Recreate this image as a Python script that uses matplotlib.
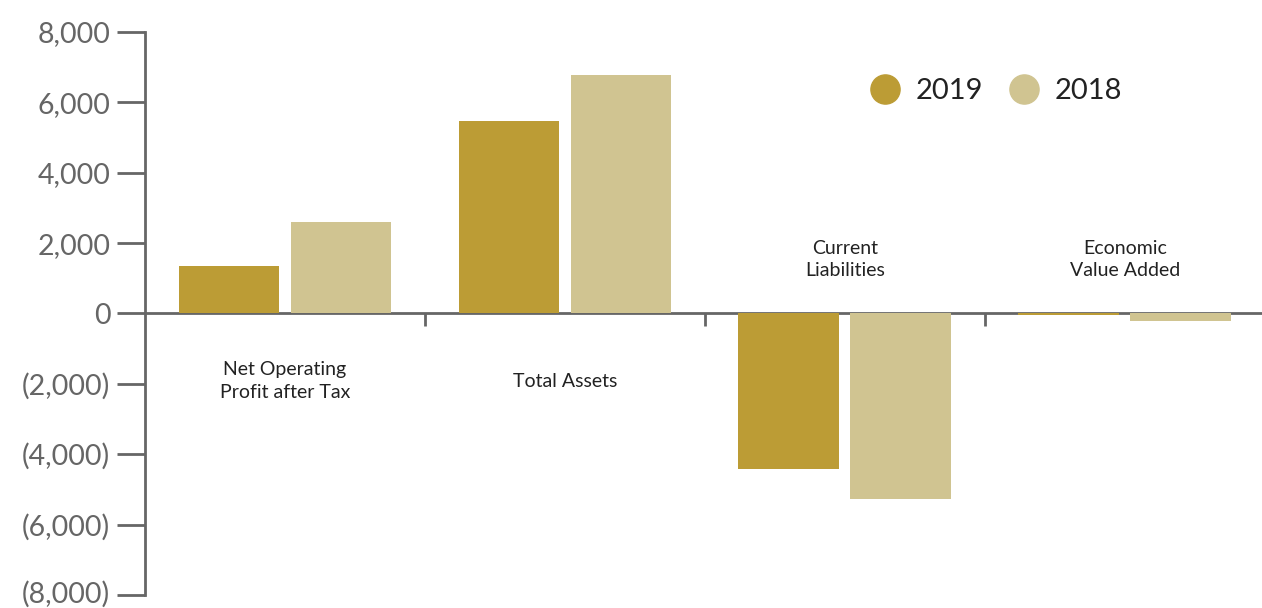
import matplotlib
matplotlib.use("Agg")
import matplotlib.pyplot as plt
from matplotlib.lines import Line2D
from matplotlib.ticker import FuncFormatter
from matplotlib.transforms import ScaledTranslation
import numpy as np

categories = ["Net Operating\nProfit after Tax", "Total Assets", "Current\nLiabilities", "Economic\nValue Added"]
series_names = ["2019", "2018"]
values_2019 = [1360, 5480, -4430, -30]
values_2018 = [2590, 6790, -5280, -200]
yticks = [-8000, -6000, -4000, -2000, 0, 2000, 4000, 6000, 8000]

c2019 = "#BC9C35"
c2018 = "#D0C491"
axc = "#666666"

plt.rcParams['font.family'] = ['Lato', 'DejaVu Sans']

fig = plt.figure(figsize=(12.62, 6.08), dpi=100)
ax = fig.add_axes([145/1262, 1-595/608, 1-145/1262, (595-32)/608])

x = np.arange(len(categories))
w = 0.36
ax.bar(x - 0.2, values_2019, w, color=c2019, zorder=2)
ax.bar(x + 0.2, values_2018, w, color=c2018, zorder=2)

ax.set_xlim(-0.5, 3.49)
ax.set_ylim(-8000, 8000)
ax.set_yticks(yticks)
ax.yaxis.set_major_formatter(FuncFormatter(lambda v, p: f"{v:,.0f}" if v >= 0 else f"({-v:,.0f})"))
ax.tick_params(axis='y', length=20, width=2, color=axc, labelcolor=axc, labelsize=20.5, pad=5)

ax.set_xticks([0.5, 1.5, 2.5])
ax.set_xticklabels([])
ax.tick_params(axis='x', length=9, width=2, color=axc, direction='out')

for s in ['top', 'right']:
    ax.spines[s].set_visible(False)
ax.spines['left'].set_color(axc)
ax.spines['left'].set_linewidth(2)
ax.spines['bottom'].set_position(('data', 0))
ax.spines['bottom'].set_color(axc)
ax.spines['bottom'].set_linewidth(2)
ax.spines['bottom'].set_zorder(1)

# nudge the bottom tick label up slightly so it stays inside the figure
fig.canvas.draw()
lowest = ax.get_yticklabels()[0]
lowest.set_transform(lowest.get_transform() + ScaledTranslation(0, 3/100, fig.dpi_scale_trans))

for i, cat in enumerate(categories):
    if values_2019[i] + values_2018[i] >= 0:
        ax.text(i, -1920, cat, ha='center', va='center', fontsize=14, color='#222222', linespacing=1.4)
    else:
        ax.text(i, 1530, cat, ha='center', va='center', fontsize=14, color='#222222', linespacing=1.4)

handles = [Line2D([], [], marker='o', linestyle='none', markersize=21, color=c) for c in (c2019, c2018)]
fig.legend(handles, series_names, loc='center', bbox_to_anchor=(989/1262, 1-91/608), ncol=2,
           frameon=False, fontsize=21, handletextpad=0.05, columnspacing=0.4, labelcolor='#222222')

fig.savefig("out.png", dpi=100)
